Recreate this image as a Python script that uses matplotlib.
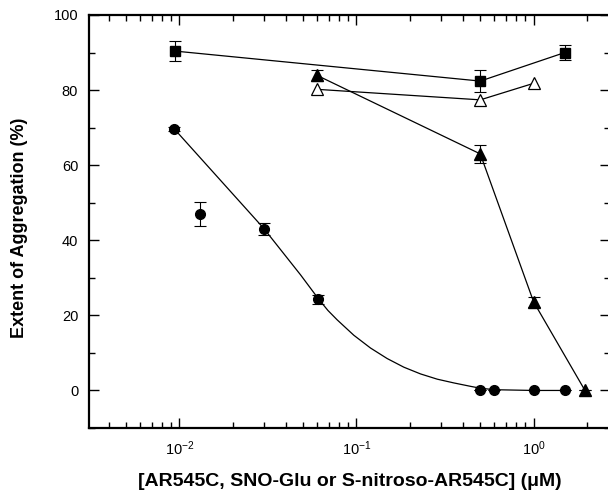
import matplotlib
matplotlib.use("Agg")
import matplotlib.pyplot as plt
from matplotlib.ticker import LogLocator, NullFormatter, MultipleLocator, FixedLocator

plt.rcParams['font.family'] = ['Liberation Sans', 'DejaVu Sans']
plt.rcParams['mathtext.fontset'] = 'custom'
plt.rcParams['mathtext.rm'] = 'Liberation Sans'
plt.rcParams['mathtext.it'] = 'Liberation Sans:italic'
plt.rcParams['mathtext.bf'] = 'Liberation Sans:bold'

# ---- data ----
# filled squares
sq_x = [0.0094, 0.5, 1.5]
sq_y = [90.4, 82.4, 90.0]
sq_err = [2.6, 3.0, 1.9]

# open triangles
otri_x = [0.06, 0.5, 1.0]
otri_y = [80.2, 77.4, 81.8]

# filled triangles
ftri_x = [0.06, 0.5, 1.0, 1.95]
ftri_y = [83.9, 63.0, 23.6, 0.0]
ftri_err = [1.4, 2.4, 1.4, 0.0]

# filled circles
circ_x = [0.0093, 0.013, 0.030, 0.061, 0.5, 0.6, 1.0, 1.5]
circ_y = [69.6, 47.0, 43.0, 24.3, 0.0, 0.0, 0.0, 0.0]
circ_err = [0.5, 3.1, 1.6, 1.2, 0.0, 0.0, 0.0, 0.0]

# fitted curve through the circles
fit_x = [0.0093, 0.0299, 0.0483, 0.0612, 0.069, 0.0778, 0.0966, 0.120,
         0.149, 0.185, 0.230, 0.286, 0.355, 0.44, 0.5, 0.6, 1.0, 1.5]
fit_y = [69.8, 43.2, 30.8, 24.3, 21.3, 18.8, 14.7, 11.3,
         8.5, 6.2, 4.4, 3.0, 2.0, 1.1, 0.6, 0.2, 0.0, 0.0]

y_ticks = [0, 20, 40, 60, 80, 100]

fig = plt.figure(figsize=(6.08, 4.95), dpi=100)
ax = fig.add_axes([89.3 / 608, 67 / 495, (610 - 89.3) / 608, 413 / 495])

ms = 7
lw = 0.9
ekw = dict(ecolor='black', elinewidth=0.8, capsize=4.5, capthick=0.8)

ax.plot(fit_x, fit_y, color='black', lw=lw, zorder=2)
ax.errorbar(circ_x, circ_y, yerr=circ_err, fmt='o', color='black', ms=ms,
            zorder=3, **ekw)

ax.errorbar(sq_x, sq_y, yerr=sq_err, fmt='s-', color='black', ms=ms,
            lw=lw, zorder=3, **ekw)
ax.plot(otri_x, otri_y, '^-', color='black', mfc='white', mec='black',
        ms=ms + 1, lw=lw, mew=0.9, zorder=3)
ax.errorbar(ftri_x, ftri_y, yerr=ftri_err, fmt='^-', color='black',
            ms=ms + 1, lw=lw, zorder=3, **ekw)

ax.set_xscale('log')
ax.set_xlim(0.0031, 2.7)
ax.set_ylim(-10, 100)

ax.xaxis.set_major_locator(LogLocator(base=10, numticks=10))
ax.xaxis.set_minor_locator(LogLocator(base=10, subs=range(2, 10), numticks=20))
ax.xaxis.set_minor_formatter(NullFormatter())
ax.yaxis.set_major_locator(FixedLocator(y_ticks))
ax.yaxis.set_minor_locator(MultipleLocator(10))

ax.tick_params(which='both', direction='in', top=True, right=True,
               width=1.0, labelsize=10.5, colors='black')
ax.tick_params(which='major', length=7)
ax.tick_params(which='minor', length=4.5)
ax.tick_params(axis='y', pad=8)
ax.tick_params(axis='x', pad=8)

for s in ax.spines.values():
    s.set_linewidth(1.6)

fig.text(350 / 608, 1 - 482 / 495,
         '[AR545C, SNO-Glu or S-nitroso-AR545C] (\u03bcM)',
         ha='center', va='center', fontsize=14, fontweight='bold')
fig.text(20 / 608, 1 - 228 / 495, 'Extent of Aggregation (%)',
         ha='center', va='center', rotation=90, fontsize=13,
         fontweight='bold')

fig.savefig('out.png', dpi=100)
